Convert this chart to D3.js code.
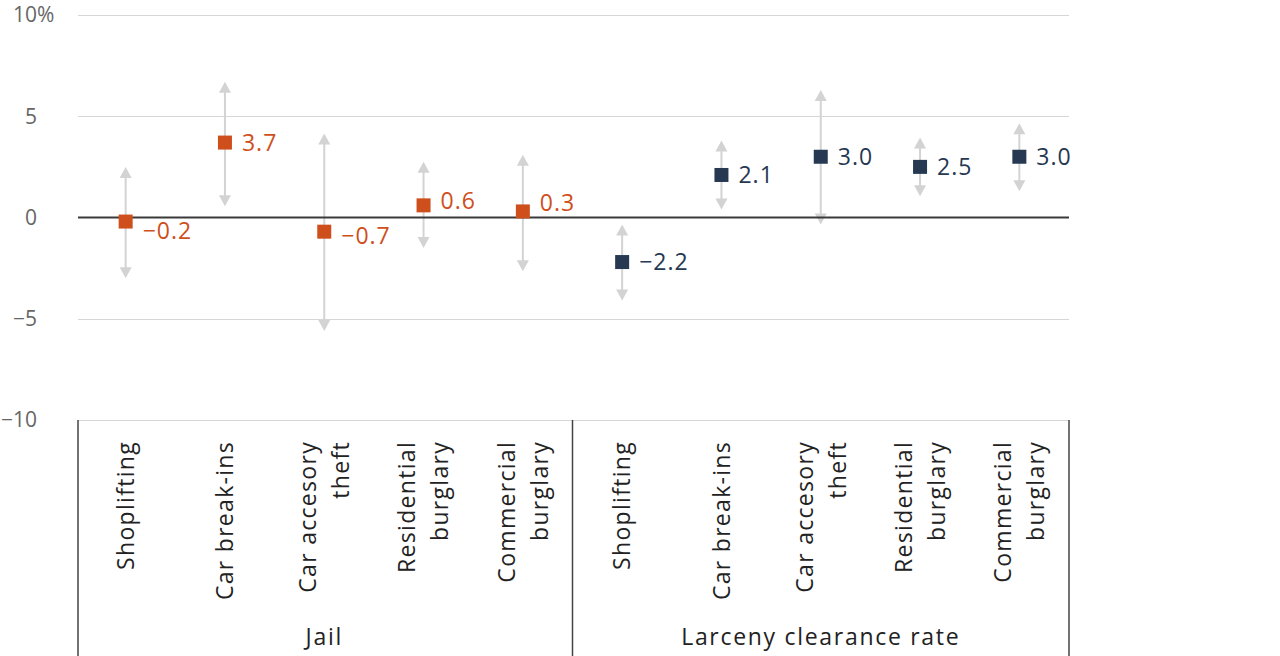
<!DOCTYPE html>
<html>
<head>
<meta charset="utf-8">
<script src="https://cdn.jsdelivr.net/npm/d3@7"></script>
<style>
  html, body { margin: 0; padding: 0; background: #fff; }
  svg { display: block; font-family: "Open Sans", "Lato", sans-serif; }
</style>
</head>
<body>
<svg id="chart" width="1280" height="656"></svg>
<script>
// ---- data ----
const groups = ["Jail", "Larceny clearance rate"];
const categories = [
  ["Shoplifting"], ["Car break-ins"], ["Car accesory", "theft"], ["Residential", "burglary"], ["Commercial", "burglary"]
];
const jailValues = [-0.2, 3.7, -0.7, 0.6, 0.3];
const jailHigh   = [2.5, 6.7, 4.15, 2.75, 3.1];
const jailLow    = [-3.0, 0.55, -5.6, -1.5, -2.65];
const larcenyValues = [-2.2, 2.1, 3.0, 2.5, 3.0];
const larcenyHigh   = [-0.35, 3.8, 6.3, 3.95, 4.65];
const larcenyLow    = [-4.1, 0.4, -0.35, 1.05, 1.3];
const yTicks = [10, 5, 0, -5, -10];
const yTickLabels = ["10", "5", "0", "\u22125", "\u221210"];
const seriesColors = ["#cf4f1c", "#263852"];

// ---- build rows ----
const rows = [];
[[jailValues, jailHigh, jailLow], [larcenyValues, larcenyHigh, larcenyLow]].forEach((s, gi) => {
  s[0].forEach((v, i) => rows.push({ key: gi + "-" + i, group: gi, lines: categories[i], value: v, hi: s[1][i], lo: s[2][i] }));
});

const svg = d3.select("#chart");
const left = 76, right = 1069, gridLeft = 78;
const x = d3.scaleBand().domain(rows.map(d => d.key)).range([left, right]);
const y = d3.scaleLinear().domain([-10, 10]).range([420, 15]);

// gridlines
svg.append("g").selectAll("line").data(yTicks.filter(t => t !== 0)).join("line")
  .attr("x1", gridLeft).attr("x2", right)
  .attr("y1", d => Math.round(y(d)) + 0.5).attr("y2", d => Math.round(y(d)) + 0.5)
  .attr("stroke", "#d6d6d6").attr("stroke-width", 1);

// y tick labels
const yl = svg.append("g");
yTicks.forEach((t, i) => {
  yl.append("text").attr("x", 37).attr("y", y(t)).attr("dy", "0.35em")
    .attr("text-anchor", "end").attr("font-size", 21).attr("fill", "#666")
    .text(yTickLabels[i]);
  if (i === 0) {
    yl.append("text").attr("x", 37).attr("y", y(t)).attr("dy", "0.35em")
      .attr("text-anchor", "start").attr("font-size", 21).attr("fill", "#666").text("%");
  }
});

// error bars
const eb = svg.append("g");
rows.forEach(d => {
  const cx = x(d.key) + x.bandwidth() / 2;
  const ah = 11, aw = 6;
  const yh = y(d.hi), yl2 = y(d.lo);
  eb.append("line").attr("x1", cx).attr("x2", cx)
    .attr("y1", yh + ah - 1).attr("y2", yl2 - ah + 1)
    .attr("stroke", "#d3d3d3").attr("stroke-width", 2);
  eb.append("path").attr("d", `M${cx},${yh} L${cx - aw},${yh + ah} L${cx + aw},${yh + ah} Z`).attr("fill", "#d3d3d3");
  eb.append("path").attr("d", `M${cx},${yl2} L${cx - aw},${yl2 - ah} L${cx + aw},${yl2 - ah} Z`).attr("fill", "#d3d3d3");
});

// zero line
svg.append("line").attr("x1", gridLeft).attr("x2", right)
  .attr("y1", y(0)).attr("y2", y(0)).attr("stroke", "#3a3a3a").attr("stroke-width", 2);

// markers + labels
const fmt = v => (v < 0 ? "\u2212" : "") + Math.abs(v).toFixed(1);
rows.forEach(d => {
  const cx = x(d.key) + x.bandwidth() / 2;
  const cy = y(d.value);
  const s = 14;
  svg.append("rect").attr("x", cx - s / 2).attr("y", cy - s / 2).attr("width", s).attr("height", s)
    .attr("fill", seriesColors[d.group]);
  let ly = cy;
  if (Math.abs(d.value) < 1) ly = cy + (d.value < 0 ? 1 : -1) * (1 - Math.abs(d.value)) * 12;
  svg.append("text").attr("x", cx + 17).attr("y", ly).attr("dy", "0.36em")
    .attr("font-size", 23).attr("letter-spacing", 1).attr("fill", seriesColors[d.group]).text(fmt(d.value));
});

// bottom axis area
svg.append("g").selectAll("line").data([0, 5, 10]).join("line")
  .attr("x1", i => i === 0 ? gridLeft : x(rows[i - 1].key) + x.bandwidth())
  .attr("x2", i => i === 0 ? gridLeft : x(rows[i - 1].key) + x.bandwidth())
  .attr("y1", y(-10)).attr("y2", 656)
  .attr("stroke", "#444").attr("stroke-width", 1.5);

// category labels (rotated)
rows.forEach(d => {
  const cx = x(d.key) + x.bandwidth() / 2;
  const n = d.lines.length;
  const lh = 33;
  d.lines.forEach((ln, j) => {
    const off = (j - (n - 1) / 2) * lh;
    svg.append("text")
      .attr("transform", `translate(${cx + off},441) rotate(-90)`)
      .attr("dy", "0.36em")
      .attr("text-anchor", "end")
      .attr("font-size", 23).attr("letter-spacing", 1.3).attr("fill", "#222").text(ln);
  });
});

// group labels
groups.forEach((g, gi) => {
  const x0 = x(rows[gi * 5].key), x1 = x(rows[gi * 5 + 4].key) + x.bandwidth();
  svg.append("text").attr("x", (x0 + x1) / 2).attr("y", 637).attr("dy", "0.36em")
    .attr("text-anchor", "middle").attr("font-size", 23).attr("letter-spacing", 1.7)
    .attr("fill", "#222").text(g);
});
</script>
</body>
</html>
